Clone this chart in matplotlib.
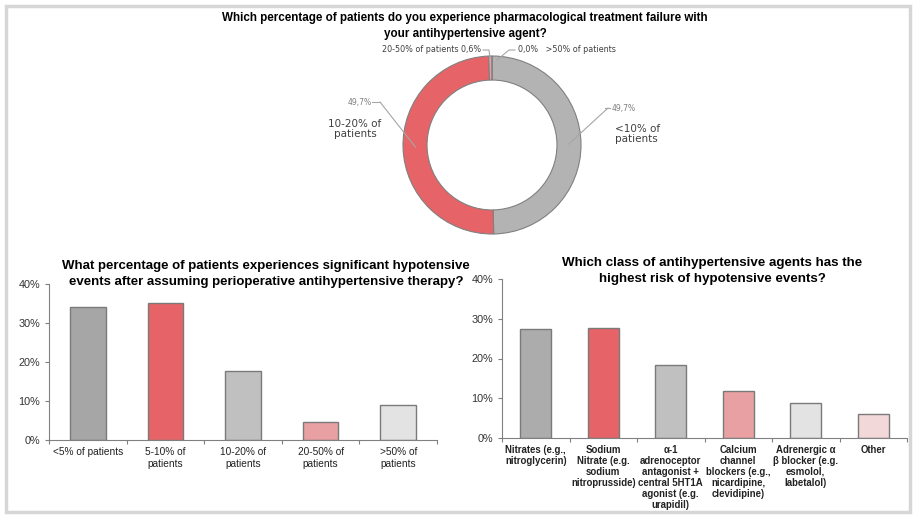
import numpy as np
import matplotlib
matplotlib.use("Agg")
import matplotlib.pyplot as plt
from matplotlib.patches import Rectangle

plt.rcParams['font.family'] = ['Liberation Sans', 'DejaVu Sans']

# donut data
donut_labels = ['<10% of\npatients', '10-20% of\npatients', '20-50% of patients', '>50% of patients']
donut_values = [49.7, 49.7, 0.6, 0.0]
donut_colors = ['#b3b3b3', '#e66467', '#e8a0a2', '#d9d9d9']

# left bar chart
left_cats = ['<5% of patients', '5-10% of\npatients', '10-20% of\npatients', '20-50% of\npatients', '>50% of\npatients']
left_vals = [34.0, 35.1, 17.8, 4.5, 9.0]
left_colors = ['#a6a6a6', '#e66467', '#c0c0c0', '#e8a0a2', '#e3e3e3']

# right bar chart
right_cats = ['Nitrates (e.g.,\nnitroglycerin)', 'Sodium\nNitrate (e.g.\nsodium\nnitroprusside)',
              'α-1\nadrenoceptor\nantagonist +\ncentral 5HT1A\nagonist (e.g.\nurapidil)',
              'Calcium\nchannel\nblockers (e.g.,\nnicardipine,\nclevidipine)',
              'Adrenergic α\nβ blocker (e.g.\nesmolol,\nlabetalol)', 'Other']
right_vals = [27.5, 27.7, 18.3, 11.8, 8.9, 6.0]
right_colors = ['#acacac', '#e66467', '#c0c0c0', '#e8a0a2', '#e3e3e3', '#f2d8d9']

W, H = 915, 516
fig = plt.figure(figsize=(W / 100, H / 100), dpi=100)

def fx(x):
    return x / W

def fy(y):
    return 1 - y / H

# outer frame
fig.patches.append(Rectangle((fx(6), fy(512)), fx(904), 506 / H, transform=fig.transFigure,
                             fill=False, edgecolor='#d6d6d6', linewidth=2.5))

# ---- donut ----
cx, cy, r = 492, 145, 89
axd = fig.add_axes([fx(cx - r), fy(cy + r), fx(2 * r), 2 * r / H])
wedges, _ = axd.pie(donut_values, colors=donut_colors, startangle=90, counterclock=False,
                    radius=1, wedgeprops=dict(width=0.27, edgecolor='#808080', linewidth=0.8))
axd.set_xlim(-1, 1)
axd.set_ylim(-1, 1)
axd.axis('off')

fig.text(fx(465), fy(26), 'Which percentage of patients do you experience pharmacological treatment failure with\nyour antihypertensive agent?',
         ha='center', va='center', fontsize=8.4, fontweight='bold', linespacing=1.35)

def wedge_point(w, rad=0.86):
    ang = np.deg2rad((w.theta1 + w.theta2) / 2)
    return rad * np.cos(ang), rad * np.sin(ang)

def to_data(px, py):
    return (px - cx) / r, (cy - py) / r

pct = [('%.1f%%' % v).replace('.', ',') for v in donut_values]
lc = '#a6a6a6'
dkw = dict(family=['DejaVu Sans'])
# <10%
axd.annotate('', xy=wedge_point(wedges[0]), xytext=to_data(608, 108),
             arrowprops=dict(arrowstyle='-', color=lc, lw=0.8, shrinkA=0, shrinkB=0), annotation_clip=False)
axd.plot(*zip(to_data(605, 108), to_data(610, 108)), color=lc, lw=0.8, clip_on=False)
fig.text(fx(612), fy(108), pct[0], ha='left', va='center', fontsize=5.5, color='#7f7f7f', **dkw)
fig.text(fx(615), fy(134), donut_labels[0], ha='left', va='center', fontsize=7.5, color='#404040', linespacing=1.1, **dkw)
# 10-20%
axd.annotate('', xy=wedge_point(wedges[1]), xytext=to_data(380, 102),
             arrowprops=dict(arrowstyle='-', color=lc, lw=0.8, shrinkA=0, shrinkB=0), annotation_clip=False)
axd.plot(*zip(to_data(372, 102), to_data(380, 102)), color=lc, lw=0.8, clip_on=False)
fig.text(fx(372), fy(102), pct[1], ha='right', va='center', fontsize=5.5, color='#7f7f7f', **dkw)
fig.text(fx(355), fy(129), donut_labels[1], ha='center', va='center', fontsize=7.5, color='#404040', linespacing=1.1, **dkw)
# 20-50%
axd.plot(*zip(to_data(483, 50), to_data(489, 50), to_data(490, 58)), color=lc, lw=0.8, clip_on=False)
fig.text(fx(481), fy(49), donut_labels[2] + ' ' + pct[2], ha='right', va='center', fontsize=5.8, color='#404040', **dkw)
# >50%
axd.plot(*zip(to_data(515, 50), to_data(509, 50), to_data(497, 60)), color=lc, lw=0.8, clip_on=False)
fig.text(fx(518), fy(49), pct[3] + '   ' + donut_labels[3], ha='left', va='center', fontsize=5.8, color='#404040', **dkw)

# ---- bar charts ----
def bar_panel(rect, cats, vals, colors, title, title_xy, title_fs, tick_fs, tick_bold, tick_ls):
    ax = fig.add_axes(rect)
    x = np.arange(len(cats))
    ax.bar(x, vals, width=0.46, color=colors, edgecolor='#7a7a7a', linewidth=1.0)
    ax.set_xlim(-0.5, len(cats) - 0.5)
    ax.set_ylim(0, 40)
    ax.set_yticks([0, 10, 20, 30, 40])
    ax.set_yticklabels(['%d%%' % t for t in [0, 10, 20, 30, 40]], fontsize=7.8, color='#333333')
    ax.set_xticks(x)
    ax.set_xticklabels(cats, fontsize=tick_fs, fontweight='bold' if tick_bold else 'normal',
                       color='#222222', linespacing=tick_ls, va='top')
    ax.tick_params(axis='x', length=0, pad=5)
    ax.tick_params(axis='y', length=3, color='#808080', width=0.8)
    ax.set_xticks(np.arange(len(cats) + 1) - 0.5, minor=True)
    ax.tick_params(axis='x', which='minor', length=3, color='#808080', width=0.8)
    for s in ['top', 'right']:
        ax.spines[s].set_visible(False)
    for s in ['left', 'bottom']:
        ax.spines[s].set_color('#808080')
        ax.spines[s].set_linewidth(0.8)
    fig.text(fx(title_xy[0]), fy(title_xy[1]), title, ha='center', va='center',
             fontsize=title_fs, fontweight='bold', linespacing=1.35)
    return ax

bar_panel([fx(49), fy(440), fx(388), 156 / H], left_cats, left_vals, left_colors,
          'What percentage of patients experiences significant hypotensive\nevents after assuming perioperative antihypertensive therapy?',
          (266, 274), 9.5, 7.3, False, 1.25)
bar_panel([fx(502), fy(438), fx(405), 159 / H], right_cats, right_vals, right_colors,
          'Which class of antihypertensive agents has the\nhighest risk of hypotensive events?',
          (712, 271), 9.6, 6.9, True, 1.12)

fig.savefig('out.png', dpi=100)
